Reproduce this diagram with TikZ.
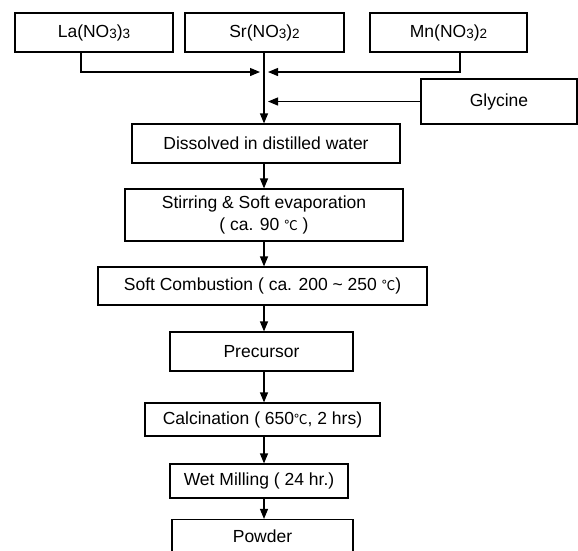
\documentclass[tikz,border=0pt]{standalone}
\usepackage{fontspec}
\setmainfont{Liberation Sans}
\newfontfamily\cjk{Noto Sans CJK SC}
\usetikzlibrary{arrows.meta}
\newcommand{\degc}{{\cjk\fontsize{13.5}{14}\selectfont ℃}}
\newcommand{\lowsub}[1]{\raisebox{-1.2pt}{\fontsize{13.5}{14}\selectfont #1}}
\tikzset{
  box/.style={draw=black, line width=1.2pt, rectangle, inner sep=0pt, align=center,
    font=\fontsize{17.5}{22}\selectfont},
  conn/.style={draw=black, line width=1.2pt},
  arr/.style={conn, -{Triangle[length=10pt,width=8pt]}},
}
\begin{document}
\begin{tikzpicture}[x=1pt,y=-1pt]
\clip (0,0) rectangle (578,550);
\fill[white] (0,0) rectangle (578,550);
\node[box, minimum width=158pt, minimum height=39pt] (la) at (94,32.5) {La(NO\lowsub{3})\lowsub{3}};
\node[box, minimum width=159pt, minimum height=39pt] (sr) at (264.5,32.5) {Sr(NO\lowsub{3})\lowsub{2}};
\node[box, minimum width=157pt, minimum height=39pt] (mn) at (448.5,32.5) {Mn(NO\lowsub{3})\lowsub{2}};
\node[box, minimum width=156pt, minimum height=45pt] (gly) at (499,101.5) {Glycine};
\node[box, minimum width=268pt, minimum height=39pt] (dis) at (266,143.5) {Dissolved in distilled water};
\node[box, minimum width=278pt, minimum height=52pt] (stir) at (264,215) {Stirring \& Soft evaporation\\( ca. 90 \degc{} )};
\node[box, minimum width=329pt, minimum height=38pt] (comb) at (262.5,286) {Soft Combustion ( ca. 200 \char"007E\ 250 \degc)};
\node[box, minimum width=183pt, minimum height=39pt] (prec) at (261.5,351.5) {Precursor};
\node[box, minimum width=235pt, minimum height=33pt] (calc) at (262.5,419.5) {Calcination ( 650\degc, 2 hrs)};
\node[box, minimum width=178pt, minimum height=34pt] (wet) at (259,481) {Wet Milling ( 24 hr.)};
\node[box, minimum width=181pt, minimum height=33pt] (pow) at (262.5,536) {Powder};
\coordinate (spine) at (264,0);
\coordinate (lax) at (81,0);
\coordinate (mnx) at (460,0);
\coordinate (lain) at (260,72);
\coordinate (mnin) at (268,72);
\coordinate (glyin) at (268,101.5);
% inputs
\draw[arr] (la.south -| lax) |- (lain);
\draw[arr] (mn.south -| mnx) |- (mnin);
\draw[arr] (gly.west) -- (glyin);
\draw[arr] (sr.south -| spine) -- (dis.north -| spine);
% chain
\draw[arr] (dis.south -| spine) -- (stir.north -| spine);
\draw[arr] (stir.south -| spine) -- (comb.north -| spine);
\draw[arr] (comb.south -| spine) -- (prec.north -| spine);
\draw[arr] (prec.south -| spine) -- (calc.north -| spine);
\draw[arr] (calc.south -| spine) -- (wet.north -| spine);
\draw[arr] (wet.south -| spine) -- (pow.north -| spine);
\end{tikzpicture}
\end{document}
